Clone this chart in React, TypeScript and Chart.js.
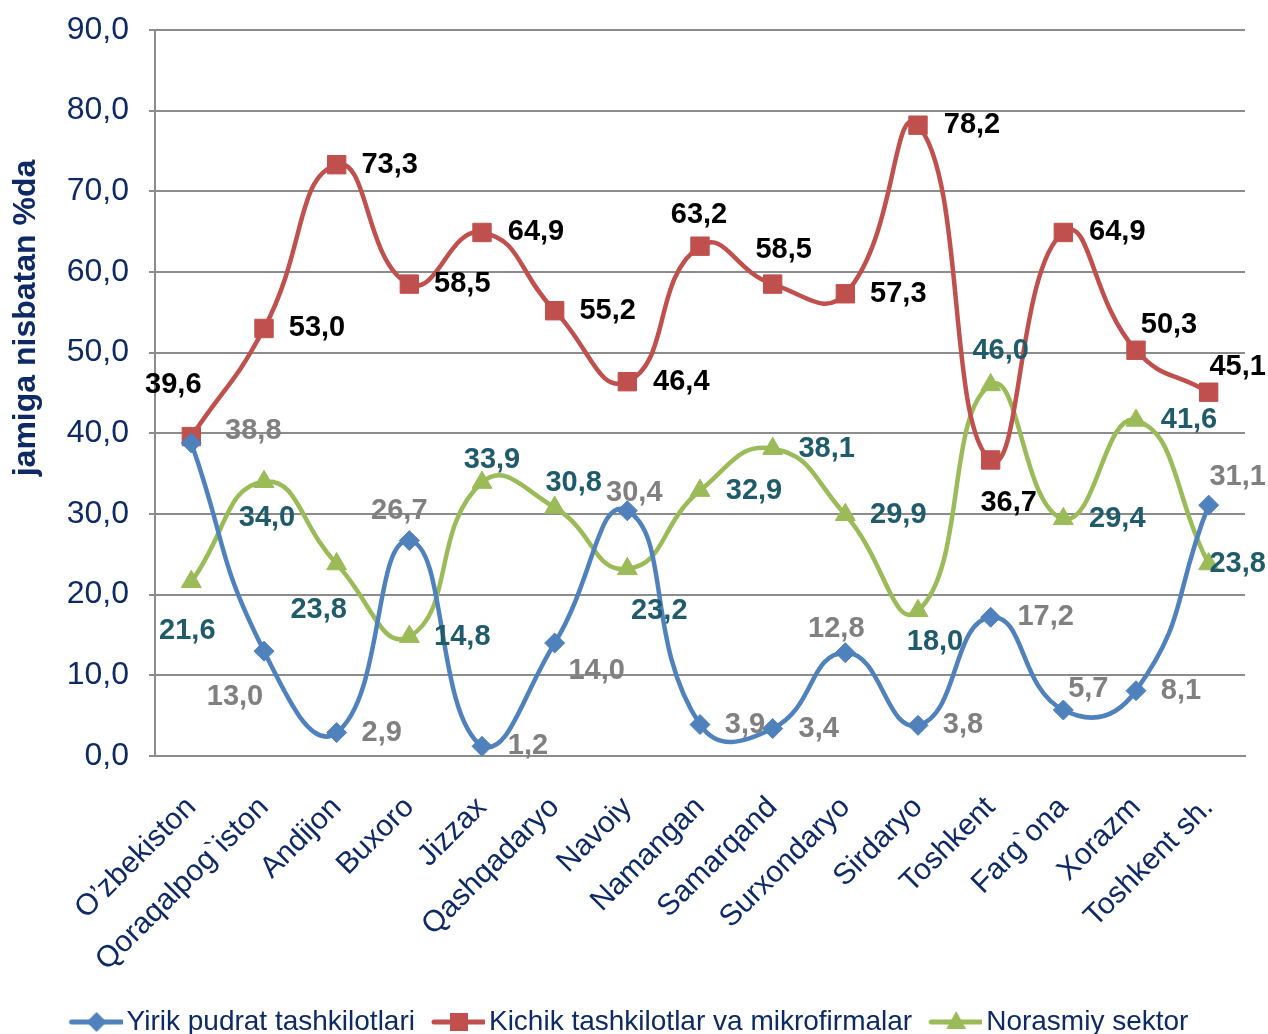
import React, { useEffect, useRef } from "react";
import { Chart, registerables } from "chart.js";

Chart.register(...registerables);

const categories = [
  "O\u2019zbekiston",
  "Qoraqalpog`iston",
  "Andijon",
  "Buxoro",
  "Jizzax",
  "Qashqadaryo",
  "Navoiy",
  "Namangan",
  "Samarqand",
  "Surxondaryo",
  "Sirdaryo",
  "Toshkent",
  "Farg`ona",
  "Xorazm",
  "Toshkent sh.",
];

const yirikValues = [38.8, 13.0, 2.9, 26.7, 1.2, 14.0, 30.4, 3.9, 3.4, 12.8, 3.8, 17.2, 5.7, 8.1, 31.1];
const kichikValues = [39.6, 53.0, 73.3, 58.5, 64.9, 55.2, 46.4, 63.2, 58.5, 57.3, 78.2, 36.7, 64.9, 50.3, 45.1];
const norasmiyValues = [21.6, 34.0, 23.8, 14.8, 33.9, 30.8, 23.2, 32.9, 38.1, 29.9, 18.0, 46.0, 29.4, 41.6, 23.8];

const seriesNames = ["Yirik pudrat tashkilotlari", "Kichik tashkilotlar va mikrofirmalar", "Norasmiy sektor"];
const yTickValues = [0, 10, 20, 30, 40, 50, 60, 70, 80, 90];
const yAxisTitle = "jamiga nisbatan %da";

// label placement (pixel offsets from the point), style only
const yirikLabelOffsets = [
  [62, -12], [-29, 46], [45, 0], [-10, -30], [46, 0], [42, 28], [7, -18], [45, 0],
  [46, 0], [-9, -24], [45, 0], [55, 0], [25, -21], [45, 0], [29, -28],
];
const kichikLabelOffsets = [
  [-18, -52], [53, 0], [53, 0], [53, 0], [54, 0], [53, 0], [54, 0], [-1, -31],
  [11, -34], [53, 0], [54, 0], [18, 43], [54, 0], [33, -25], [29, -25],
];
const norasmiyLabelOffsets = [
  [-4, 49], [3, 36], [-18, 46], [53, 0], [10, -23], [19, -25], [32, 42], [54, 0],
  [54, 0], [53, 0], [17, 31], [10, -34], [54, 0], [53, 0], [29, 0],
];

const FONT = "Arial, 'Liberation Sans', sans-serif";
const NAVY = "#0E2A66";
const GRID = "#8C8C8C";
const BLUE = "#4F81BD";
const RED = "#C0504D";
const GREEN = "#9BBB59";

const fmt = (v: number) => v.toFixed(1).replace(".", ",");

function legendIcon(color: string, style: string): HTMLCanvasElement {
  const c = document.createElement("canvas");
  c.width = 76;
  c.height = 26;
  const g = c.getContext("2d")!;
  const cx = 50;
  const cy = 13;
  g.strokeStyle = color;
  g.lineWidth = 5;
  g.lineCap = "round";
  g.beginPath();
  g.moveTo(25, cy);
  g.lineTo(75, cy);
  g.stroke();
  g.fillStyle = color;
  g.beginPath();
  if (style === "rectRot") {
    g.moveTo(cx, cy - 10);
    g.lineTo(cx + 10, cy);
    g.lineTo(cx, cy + 10);
    g.lineTo(cx - 10, cy);
  } else if (style === "rect") {
    g.rect(cx - 9, cy - 9, 18, 18);
  } else {
    g.moveTo(cx, cy - 11);
    g.lineTo(cx + 10, cy + 7);
    g.lineTo(cx - 10, cy + 7);
  }
  g.closePath();
  g.fill();
  return c;
}

const dataLabelPlugin = {
  id: "dataLabelPlugin",
  afterDatasetsDraw(chart: any) {
    const ctx = chart.ctx;
    ctx.save();
    ctx.textAlign = "center";
    ctx.textBaseline = "middle";
    ctx.font = `bold 29px ${FONT}`;
    chart.data.datasets.forEach((ds: any, di: number) => {
      const meta = chart.getDatasetMeta(di);
      ctx.fillStyle = ds.labelColor;
      meta.data.forEach((el: any, i: number) => {
        const off = ds.labelOffsets[i];
        ctx.fillText(fmt(ds.data[i]), el.x + off[0], el.y + off[1]);
      });
    });
    ctx.restore();
  },
};

const yTitlePlugin = {
  id: "yTitlePlugin",
  afterDraw(chart: any) {
    const ctx = chart.ctx;
    const area = chart.chartArea;
    ctx.save();
    ctx.translate(area.left - 129, area.top + 288);
    ctx.rotate(-Math.PI / 2);
    ctx.textAlign = "center";
    ctx.textBaseline = "middle";
    ctx.font = `bold 32px ${FONT}`;
    ctx.fillStyle = NAVY;
    ctx.fillText(yAxisTitle, 0, 0);
    ctx.restore();
  },
};

export default function App() {
  const ref = useRef<HTMLCanvasElement>(null);

  useEffect(() => {
    document.body.style.margin = "0";
    const canvas = ref.current!;
    const styles = ["rectRot", "rect", "triangle"];
    const colors = [BLUE, RED, GREEN];
    const chart = new Chart(canvas, {
      type: "line",
      data: {
        labels: categories,
        datasets: [
          {
            label: seriesNames[0],
            data: yirikValues,
            borderColor: BLUE,
            backgroundColor: BLUE,
            borderWidth: 4.5,
            pointStyle: "rectRot",
            pointRadius: 10,
            pointBorderWidth: 1,
            tension: 0.5,
            labelColor: "#808080",
            labelOffsets: yirikLabelOffsets,
          } as any,
          {
            label: seriesNames[1],
            data: kichikValues,
            borderColor: RED,
            backgroundColor: RED,
            borderWidth: 4.5,
            pointStyle: "rect",
            pointRadius: 13,
            pointBorderWidth: 1,
            tension: 0.5,
            labelColor: "#000000",
            labelOffsets: kichikLabelOffsets,
          } as any,
          {
            label: seriesNames[2],
            data: norasmiyValues,
            borderColor: GREEN,
            backgroundColor: GREEN,
            borderWidth: 4.5,
            pointStyle: "triangle",
            pointRadius: 11.5,
            pointBorderWidth: 1,
            tension: 0.5,
            labelColor: "#1F5B6B",
            labelOffsets: norasmiyLabelOffsets,
          } as any,
        ],
      },
      options: {
        animation: false,
        responsive: false,
        devicePixelRatio: 1,
        layout: { padding: { left: 0, right: 23, top: 30, bottom: -12 } },
        plugins: {
          tooltip: { enabled: false },
          legend: {
            position: "bottom",
            labels: {
              usePointStyle: true,
              pointStyleWidth: 56,
              boxHeight: 26,
              padding: 4,
              color: NAVY,
              font: { size: 28, family: FONT },
              generateLabels: () =>
                seriesNames.map((name, i) => ({
                  text: name,
                  fillStyle: colors[i],
                  strokeStyle: colors[i],
                  lineWidth: 0,
                  pointStyle: legendIcon(colors[i], styles[i]) as any,
                  fontColor: NAVY,
                  datasetIndex: i,
                  hidden: false,
                })),
            },
          },
        },
        scales: {
          x: {
            type: "category",
            offset: true,
            grid: { display: false },
            border: { display: true, color: GRID, width: 2 },
            ticks: {
              autoSkip: false,
              maxRotation: 45,
              minRotation: 45,
              color: NAVY,
              font: { size: 30, family: FONT },
              padding: 26,
            },
            afterFit: (scale: any) => {
              scale.height = 248;
              scale.paddingLeft = 0;
              scale.paddingRight = 0;
            },
          },
          y: {
            min: 0,
            max: 90,
            afterBuildTicks: (scale: any) => {
              scale.ticks = yTickValues.map((v) => ({ value: v }));
            },
            grid: { color: GRID, lineWidth: 2, tickLength: 6, drawTicks: true },
            border: { display: true, color: GRID, width: 2 },
            ticks: {
              color: NAVY,
              font: { size: 32, family: FONT },
              padding: 20,
              callback: (v: any) => fmt(Number(v)),
            },
            afterFit: (scale: any) => {
              scale.width = 155;
              scale.paddingTop = 0;
              scale.paddingBottom = 0;
            },
          },
        },
      } as any,
      plugins: [dataLabelPlugin, yTitlePlugin],
    });
    return () => chart.destroy();
  }, []);

  return (
    <div style={{ width: 1268, height: 1034 }}>
      <canvas ref={ref} width={1268} height={1034} />
    </div>
  );
}
